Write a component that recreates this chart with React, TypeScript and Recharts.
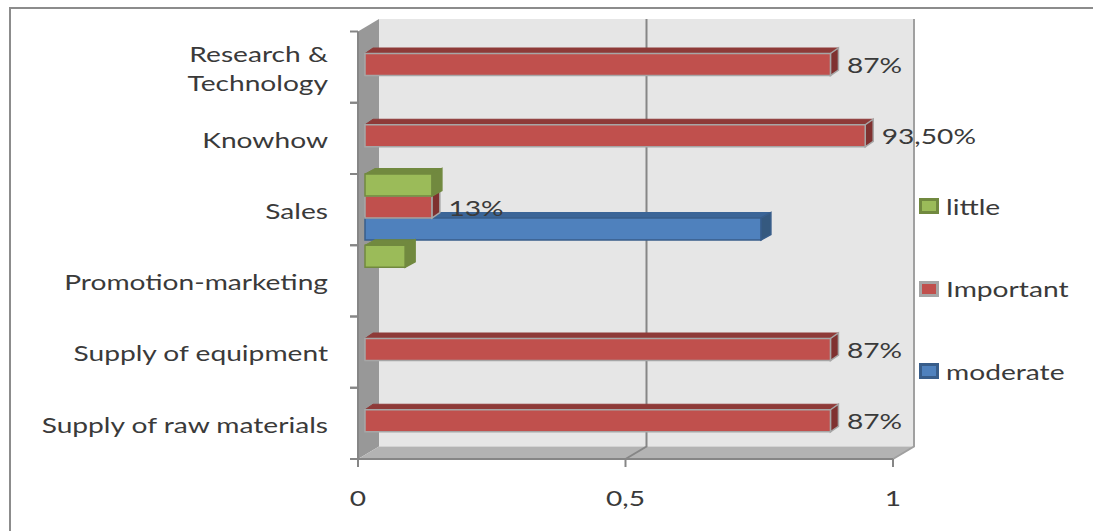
import React from "react";
import { BarChart, Bar, XAxis, YAxis, Legend, LabelList } from "recharts";

const categories = [
  "Research &\nTechnology",
  "Knowhow",
  "Sales",
  "Promotion-marketing",
  "Supply of equipment",
  "Supply of raw materials",
];
const little = [null, null, 0.125, 0.075, null, null];
const important = [0.87, 0.935, 0.125, null, 0.87, 0.87];
const moderate = [null, null, 0.74, null, null, null];
const importantLabels = ["87%", "93,50%", "13%", null, "87%", "87%"];
const xTicks = [0, 0.5, 1];

const data = categories.map((name, i) => ({
  name,
  little: little[i],
  important: important[i],
  moderate: moderate[i],
  importantLabel: importantLabels[i],
}));

const WIDTH = 1093;
const HEIGHT = 531;
const LEFT = 358;
const RIGHT = 893;
const TOP = 31.5;
const BOTTOM = 459;
const FONT = "Lato, sans-serif";
const TEXT = "#3a3a3a";
const STRETCH = 1.28;

const greenFaces = { front: "#9bbb59", top: "#71893f", side: "#71893f", edge: "#71893f", depth: 10 };
const redFaces = { front: "#c0504d", top: "#8e3a38", side: "#7f3130", edge: "#a6a6a6", depth: 8 };
const blueFaces = { front: "#4f81bd", top: "#3b6597", side: "#35597f", edge: "#385d8a", depth: 10 };

// fake 3D box, the front face is pushed a bit into the depth of the floor
const box = (faces: any) => (props: any) => {
  const { x, y, width, height } = props;
  if (!width || !height) return null;
  const fx = x + 7;
  const fy = y - 3;
  const dx = faces.depth;
  const dy = 5.5;
  const r = fx + width;
  const b = fy + height;
  return (
    <g>
      <polygon
        points={`${fx},${fy} ${fx + dx},${fy - dy} ${r + dx},${fy - dy} ${r},${fy}`}
        fill={faces.top}
        stroke={faces.top}
      />
      <polygon
        points={`${r},${fy} ${r + dx},${fy - dy} ${r + dx},${b - dy} ${r},${b}`}
        fill={faces.side}
        stroke={faces.edge}
        strokeWidth={1.5}
      />
      <rect x={fx} y={fy} width={width} height={height} fill={faces.front} stroke={faces.edge} strokeWidth={1.5} />
    </g>
  );
};

function Walls() {
  const dx = 21;
  const dy = 12.5;
  const mid = (LEFT + RIGHT) / 2;
  return (
    <g>
      <polyline points={`10,${HEIGHT} 10,8 ${WIDTH},8`} fill="none" stroke="#8c8c8c" strokeWidth={2} />
      <polygon
        points={`${LEFT + dx},${TOP - dy} ${RIGHT + dx},${TOP - dy} ${RIGHT + dx},${BOTTOM - dy} ${LEFT + dx},${BOTTOM - dy}`}
        fill="#e6e6e6"
      />
      <polygon
        points={`${LEFT},${TOP} ${LEFT + dx},${TOP - dy} ${LEFT + dx},${BOTTOM - dy} ${LEFT},${BOTTOM}`}
        fill="#989898"
      />
      <polygon
        points={`${LEFT},${BOTTOM} ${LEFT + dx},${BOTTOM - dy} ${RIGHT + dx},${BOTTOM - dy} ${RIGHT},${BOTTOM}`}
        fill="#b3b3b3"
      />
      <polyline
        points={`${mid + dx},${TOP - dy} ${mid + dx},${BOTTOM - dy} ${mid},${BOTTOM}`}
        fill="none"
        stroke="#868686"
        strokeWidth={2}
      />
      <polyline
        points={`${RIGHT + dx},${TOP - dy} ${RIGHT + dx},${BOTTOM - dy} ${RIGHT},${BOTTOM}`}
        fill="none"
        stroke="#a0a0a0"
        strokeWidth={2}
      />
    </g>
  );
}

function Stretched({ x, y, anchor, children }: any) {
  return (
    <text
      transform={`translate(${x},${y}) scale(${STRETCH},1)`}
      textAnchor={anchor}
      dominantBaseline="central"
      fontFamily={FONT}
      fontSize={22}
      fill={TEXT}
    >
      {children}
    </text>
  );
}

// tick marks sit on the band edges in the original, not on the band centres
function CategoryTick({ x, y, payload }: any) {
  const lines = String(payload.value).split("\n");
  const half = (BOTTOM - TOP) / categories.length / 2;
  return (
    <g>
      <line x1={LEFT - 8} x2={LEFT} y1={y - half} y2={y - half} stroke="#868686" strokeWidth={2} />
      <line x1={LEFT - 8} x2={LEFT} y1={y + half} y2={y + half} stroke="#868686" strokeWidth={2} />
      {lines.map((line, i) => (
        <Stretched key={line} x={x} y={y + 0.5 + (i - (lines.length - 1) / 2) * 29} anchor="end">
          {line}
        </Stretched>
      ))}
    </g>
  );
}

function ValueTick({ x, y, payload }: any) {
  return (
    <Stretched x={x} y={y + 10} anchor="middle">
      {String(payload.value).replace(".", ",")}
    </Stretched>
  );
}

function PercentLabel({ x, y, width, height, value }: any) {
  if (value == null) return null;
  return (
    <Stretched x={x + width + 23.5} y={y + height / 2 - 3} anchor="start">
      {value}
    </Stretched>
  );
}

const swatches: Record<string, any> = { little: greenFaces, Important: redFaces, moderate: blueFaces };

function LegendBox({ payload }: any) {
  return (
    <div style={{ fontFamily: FONT, fontSize: 22, color: TEXT }}>
      {(payload || []).map((entry: any) => (
        <div key={entry.value} style={{ display: "flex", alignItems: "center", height: 82.5 }}>
          <span
            style={{
              display: "inline-block",
              boxSizing: "border-box",
              width: 20,
              height: 16,
              background: swatches[entry.value].front,
              border: `3px solid ${swatches[entry.value].edge}`,
            }}
          />
          <span style={{ marginLeft: 7, transform: `scaleX(${STRETCH})`, transformOrigin: "left center" }}>
            {entry.value}
          </span>
        </div>
      ))}
    </div>
  );
}

export default function App() {
  return (
    <div style={{ position: "absolute", left: 0, top: 0 }}>
      <BarChart
        width={WIDTH}
        height={HEIGHT}
        data={data}
        layout="vertical"
        barSize={22}
        barGap={0}
        margin={{ top: TOP, right: 30, bottom: 22, left: 0 }}
      >
        <Walls />
        <XAxis
          type="number"
          domain={[0, 1]}
          ticks={xTicks}
          height={50}
          tickSize={8}
          tickMargin={20}
          stroke="#868686"
          strokeWidth={2}
          tick={<ValueTick />}
        />
        <YAxis
          type="category"
          dataKey="name"
          width={LEFT}
          tickSize={8}
          tickMargin={22}
          tickLine={false}
          stroke="#868686"
          strokeWidth={2}
          interval={0}
          tick={<CategoryTick />}
        />
        <Legend
          layout="vertical"
          align="right"
          verticalAlign="middle"
          itemSorter={null}
          content={<LegendBox />}
          wrapperStyle={{ left: 919, top: 165, width: 170 }}
        />
        <Bar dataKey="little" name="little" shape={box(greenFaces)} fill={greenFaces.front} isAnimationActive={false} zIndex={303} />
        <Bar dataKey="important" name="Important" shape={box(redFaces)} fill={redFaces.front} isAnimationActive={false} zIndex={302}>
          <LabelList dataKey="importantLabel" content={<PercentLabel />} />
        </Bar>
        <Bar dataKey="moderate" name="moderate" shape={box(blueFaces)} fill={blueFaces.front} isAnimationActive={false} zIndex={301} />
      </BarChart>
    </div>
  );
}
